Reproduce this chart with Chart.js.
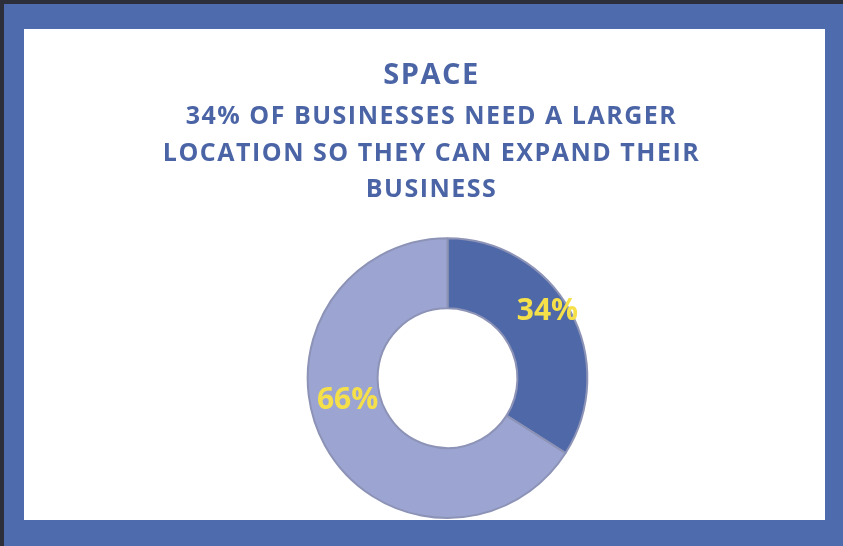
<!DOCTYPE html>
<html>
<head>
<meta charset="utf-8">
<script src="https://cdn.jsdelivr.net/npm/chart.js@4.4.0/dist/chart.umd.min.js"></script>
<style>
  body { margin: 0; background: #fff; }
  #frame {
    position: absolute; left: 0; top: 0; width: 843px; height: 546px;
    background: #4e6bae; box-sizing: border-box;
    border-left: 4px solid #2c2f3a; border-top: 4px solid #2c2f3a;
  }
  #inner {
    position: absolute; left: 20px; top: 25px; width: 801px; height: 491px; background: #fff;
  }
</style>
</head>
<body>
<div id="frame"><div id="inner"><canvas id="chart1" width="801" height="491"></canvas></div></div>
<script>
let categories = ['Need a larger location', 'Do not'];
let values = [34, 66];
let sliceColors = ['#4f69a8', '#9ca5d2'];

// the ring sits a bit right of the title block
let ringShift = 16;
// Excel-ish label nudges, per slice
let labelNudge = [[8, -16], [-8, -28]];

let spacingPlugin = {
    id: 'spacing',
    beforeDraw(chart) { chart.ctx.letterSpacing = '1.5px'; },
    afterDraw(chart) { chart.ctx.letterSpacing = '0px'; }
};

let ringPlugin = {
    id: 'ring',
    beforeDatasetsDraw(chart) {
        chart.ctx.save();
        chart.ctx.translate(ringShift, 0);
    },
    afterDatasetsDraw(chart) {
        let ctx = chart.ctx;
        let meta = chart.getDatasetMeta(0);
        ctx.letterSpacing = '0px';
        ctx.font = 'bold 30px "Open Sans", sans-serif';
        ctx.fillStyle = '#f5e04a';
        ctx.textAlign = 'center';
        ctx.textBaseline = 'middle';
        meta.data.forEach(function (arc, i) {
            let p = arc.tooltipPosition();
            ctx.fillText(values[i] + '%', p.x + labelNudge[i][0], p.y + labelNudge[i][1]);
        });
        ctx.restore();
    }
};

window.onload = function () {
    let chart1 = document.getElementById('chart1').getContext('2d');
    new Chart(chart1, {
        type: 'doughnut',
        data: {
            labels: categories,
            datasets: [{
                data: values,
                backgroundColor: sliceColors,
                borderColor: '#8d93b6',
                borderWidth: 2,
                hoverOffset: 0
            }]
        },
        options: {
            responsive: false,
            animation: false,
            cutout: '50%',
            layout: { padding: { left: 14, bottom: 1 } },
            plugins: {
                legend: { display: false },
                tooltip: { enabled: false },
                title: {
                    display: true,
                    text: 'SPACE',
                    color: '#4a64a6',
                    font: { family: '"Open Sans", sans-serif', size: 29, weight: 'bold', lineHeight: 1.2 },
                    padding: { top: 29, bottom: 6 }
                },
                subtitle: {
                    display: true,
                    text: ['34% OF BUSINESSES NEED A LARGER', 'LOCATION SO THEY CAN EXPAND THEIR', 'BUSINESS'],
                    color: '#4a64a6',
                    font: { family: '"Open Sans", sans-serif', size: 25, weight: 'bold', lineHeight: 1.46 },
                    padding: { top: 0, bottom: 29 }
                }
            }
        },
        plugins: [spacingPlugin, ringPlugin]
    });
}
</script>
</body>
</html>
